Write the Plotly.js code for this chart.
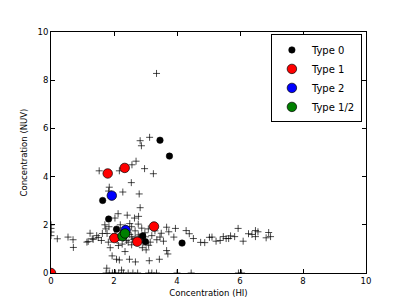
<!DOCTYPE html>
<html>
<head>
<meta charset="utf-8">
<script src="https://cdn.plot.ly/plotly-3.0.1.min.js"></script>
<style>html,body{margin:0;padding:0;background:#fff;}#chart{width:407px;height:305px;}</style>
</head>
<body>
<div id="chart"></div>
<script>
// Background sample (crosses)
var crossX = [3.35,2.83,3.13,2.87,2.70,2.57,2.97,3.25,1.53,2.17,2.55,1.85,2.28,2.80,1.83,2.83,
  2.03,2.13,2.42,2.78,2.65,1.71,1.84,1.74,2.77,2.88,3.09,2.67,1.18,1.31,1.50,1.63,1.78,1.82,1.88,
  2.26,2.45,2.56,2.14,2.90,2.67,3.20,3.15,2.56,2.77,2.03,2.56,2.45,2.98,2.35,3.67,3.74,3.95,4.29,
  4.39,3.90,3.50,3.46,3.57,3.36,0.20,0.54,0.70,0.71,1.14,1.24,1.34,1.94,2.17,2.08,2.49,2.68,3.12,
  3.44,3.02,3.10,3.67,3.71,1.77,2.24,4.52,4.75,4.88,5.03,5.11,5.24,5.37,5.47,5.56,5.64,5.70,5.83,
  5.94,6.10,6.27,6.38,6.49,6.57,6.49,6.83,6.91,6.97,
  0.0,0.0,0.0,0.0,
  1.75,1.85,1.95,2.05,2.15,2.30,2.45,2.60,2.75,3.10,3.20,3.35,4.00,4.45,5.95,6.05,
  2.20,2.30,2.40,2.50,2.60,2.70,2.80,2.90,3.00,2.10,1.95,2.35,2.50,2.20,2.95,3.30,1.60,1.45];
var crossY = [8.28,5.49,5.63,5.28,4.64,4.49,4.33,4.12,4.24,4.24,3.75,3.56,3.36,3.28,3.40,2.71,
  2.28,2.46,2.40,2.35,2.28,2.00,1.92,1.83,2.03,1.86,1.83,1.75,1.31,1.42,1.47,1.64,1.64,1.28,1.05,
  1.20,1.28,1.17,1.14,1.05,1.44,1.55,1.28,1.50,1.58,1.61,1.92,1.67,1.67,0.89,1.90,1.71,1.85,1.76,
  1.63,1.49,1.65,1.49,1.32,1.38,1.42,1.49,1.38,1.06,1.28,1.65,1.40,0.71,0.54,0.57,0.57,0.46,0.51,
  0.57,0.96,1.15,0.93,0.79,0.20,0.12,1.43,1.27,1.26,1.48,1.49,1.32,1.35,1.51,1.43,1.43,1.54,1.51,
  1.85,1.32,1.63,1.60,1.76,1.71,1.51,1.46,1.68,1.51,
  1.55,1.70,1.85,2.00,
  0,0,0,0,0,0,0,0,0,0,0,0,0,0,0,0,
  1.75,1.45,1.35,1.60,1.40,1.30,1.50,1.40,1.50,1.35,1.50,1.90,2.05,2.00,1.25,1.75,1.35,1.55];

var type0X = [3.46,3.76,1.64,1.83,2.08,2.91,3.00,4.16];
var type0Y = [5.51,4.85,3.01,2.24,1.82,1.54,1.30,1.24];
var type1X = [1.80,2.34,3.27,2.01,2.74,0.0];
var type1Y = [4.13,4.36,1.93,1.45,1.30,0.0];
var type2X = [1.93,2.37];
var type2Y = [3.21,1.78];
var type12X = [2.27,2.35];
var type12Y = [1.53,1.64];

var traces = [
  {x: crossX, y: crossY, mode: 'markers', type: 'scatter', showlegend: false, hoverinfo: 'skip',
   marker: {symbol: 'cross-thin-open', size: 5, color: 'rgba(0,0,0,0.7)', line: {color: 'rgba(0,0,0,0.7)', width: 1}}},
  {x: type0X, y: type0Y, mode: 'markers', type: 'scatter', name: 'Type 0',
   marker: {color: '#000000', size: 6.5, line: {color: '#000', width: 0.5}}},
  {x: type1X, y: type1Y, mode: 'markers', type: 'scatter', name: 'Type 1',
   marker: {color: '#ff0000', size: 9.5, line: {color: '#000', width: 0.7}}},
  {x: type2X, y: type2Y, mode: 'markers', type: 'scatter', name: 'Type 2',
   marker: {color: '#0000ff', size: 9.5, line: {color: '#000', width: 0.7}}},
  {x: type12X, y: type12Y, mode: 'markers', type: 'scatter', name: 'Type 1/2',
   marker: {color: '#008000', size: 9.5, line: {color: '#000', width: 0.7}}}
];

var axisCommon = {
  range: [0, 10], dtick: 2, tick0: 0, showgrid: false, zeroline: false,
  showline: true, linecolor: '#000', linewidth: 1, mirror: 'ticks',
  ticks: 'inside', ticklen: 4, tickcolor: '#000', tickwidth: 1,
  tickfont: {family: 'DejaVu Sans', size: 8.5, color: '#000'}
};

var layout = {
  width: 407, height: 305,
  margin: {l: 51, r: 41, t: 32, b: 32, pad: 0},
  paper_bgcolor: '#fff', plot_bgcolor: '#fff',
  font: {family: 'DejaVu Sans', color: '#000'},
  xaxis: Object.assign({}, axisCommon, {title: {text: 'Concentration (HI)', standoff: 4, font: {family: 'DejaVu Sans', size: 8.5, color: '#000'}}}),
  yaxis: Object.assign({}, axisCommon, {title: {text: 'Concentration (NUV)', standoff: 8, font: {family: 'DejaVu Sans', size: 8.5, color: '#000'}}}),
  legend: {x: 0.987, y: 0.99, xanchor: 'right', yanchor: 'top', bgcolor: '#fff',
    bordercolor: '#000', borderwidth: 1, font: {family: 'DejaVu Sans', size: 10, color: '#000'},
    tracegroupgap: 0, itemwidth: 30},
  showlegend: true
};

Plotly.newPlot('chart', traces, layout, {displayModeBar: false, staticPlot: true});
</script>
</body>
</html>
